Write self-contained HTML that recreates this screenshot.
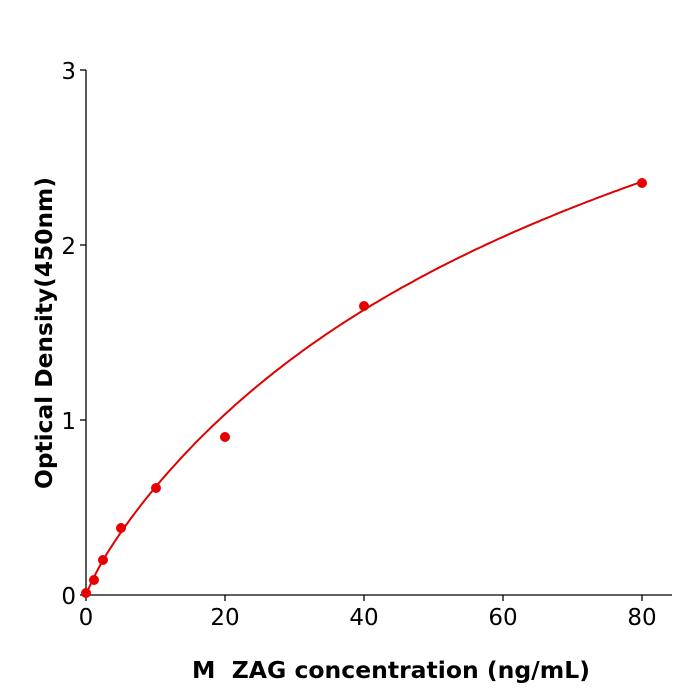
<!DOCTYPE html>
<html><head><style>body{margin:0;background:#fff}svg{display:block}</style></head>
<body>
<svg id="s" width="700" height="700" xmlns="http://www.w3.org/2000/svg" font-family="DejaVu Sans, Liberation Sans, sans-serif">
<g stroke="#000" stroke-width="1.3">
<line x1="86" y1="70" x2="86" y2="595"/>
<line x1="86" y1="595" x2="672" y2="595"/>
<line x1="80" y1="70" x2="86" y2="70"/><line x1="80" y1="245" x2="86" y2="245"/><line x1="80" y1="420" x2="86" y2="420"/><line x1="80" y1="595" x2="86" y2="595"/>
<line x1="86" y1="595" x2="86" y2="601"/><line x1="225" y1="595" x2="225" y2="601"/><line x1="364" y1="595" x2="364" y2="601"/><line x1="503" y1="595" x2="503" y2="601"/><line x1="642" y1="595" x2="642" y2="601"/>
</g>
<g font-size="23" fill="#000" text-anchor="end">
<text x="76" y="79">3</text><text x="76" y="254">2</text><text x="76" y="429">1</text><text x="76" y="604">0</text>
</g>
<g font-size="23" fill="#000" text-anchor="middle">
<text x="86" y="625">0</text><text x="225" y="625">20</text><text x="364" y="625">40</text><text x="503" y="625">60</text><text x="642" y="625">80</text>
</g>
<text x="391" y="678" font-size="23.5" font-weight="bold" text-anchor="middle">M&#160; ZAG concentration (ng/mL)</text>
<text transform="translate(52,333) rotate(-90)" font-size="23.3" font-weight="bold" text-anchor="middle">Optical Density(450nm)</text>
<path id="c" fill="none" stroke="#e00000" stroke-width="2"/>
<g fill="#e60000">
<circle cx="86" cy="593" r="5"/><circle cx="94" cy="580" r="5"/><circle cx="103" cy="560" r="5"/><circle cx="121" cy="528" r="5"/><circle cx="156" cy="488" r="5"/><circle cx="225" cy="437" r="5"/><circle cx="364" cy="306" r="5"/><circle cx="642" cy="183" r="5"/>
</g>
</svg>
<script>
var d="";for(var i=0;i<=160;i++){var x=i*0.5;var y=4.5*x/(72.4+x)+0.12*x/(3+x)*Math.pow(1-x/80,2);d+=(i?"L":"M")+(86+x*6.95).toFixed(1)+","+(595-y*175).toFixed(1);}
document.getElementById("c").setAttribute("d",d);
</script>
</body></html>
